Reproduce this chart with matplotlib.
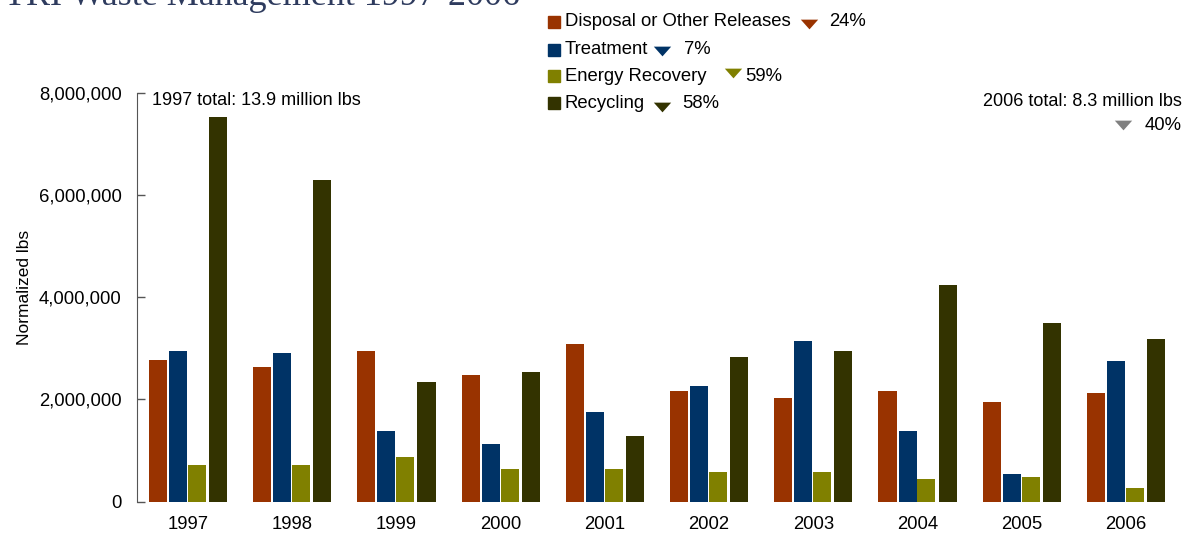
import numpy as np
import matplotlib
matplotlib.use("Agg")
import matplotlib.pyplot as plt
from matplotlib.ticker import FuncFormatter

plt.rcParams['font.family'] = ['Liberation Sans', 'DejaVu Sans']

years = ['1997', '1998', '1999', '2000', '2001', '2002', '2003', '2004', '2005', '2006']
disposal = [2770000, 2630000, 2950000, 2480000, 3090000, 2170000, 2030000, 2170000, 1940000, 2130000]
treatment = [2950000, 2910000, 1380000, 1130000, 1760000, 2270000, 3150000, 1390000, 550000, 2760000]
energy = [720000, 720000, 870000, 645000, 645000, 590000, 590000, 450000, 490000, 270000]
recycling = [7520000, 6290000, 2340000, 2540000, 1290000, 2820000, 2950000, 4240000, 3500000, 3190000]

series_names = ['Disposal or Other Releases', 'Treatment', 'Energy Recovery', 'Recycling']
series_colors = ['#993300', '#003366', '#808000', '#333300']
change_labels = ['24%', '7%', '59%', '58%']

W, H = 1185, 537
fig = plt.figure(figsize=(W / 100, H / 100), dpi=100)
ax = fig.add_axes([137 / W, 1 - 501.7 / H, (1177 - 137) / W, (501.7 - 92.5) / H])

x = np.arange(len(years))
offsets = [-0.288, -0.096, 0.086, 0.288]
bar_w = 0.173
for vals, off, col in zip([disposal, treatment, energy, recycling], offsets, series_colors):
    ax.bar(x + off, vals, width=bar_w, color=col, linewidth=0)

ax.set_xlim(-0.49, len(years) - 0.51)
ax.set_ylim(0, 8000000)
ax.set_yticks([0, 2000000, 4000000, 6000000, 8000000])
ax.yaxis.set_major_formatter(FuncFormatter(lambda v, p: f'{int(v):,}'))
ax.set_xticks(x)
ax.set_xticklabels(years)
ax.tick_params(axis='x', length=0, pad=10, labelsize=13.3)
ax.tick_params(axis='y', direction='in', length=6, width=1, color='#555555', pad=11, labelsize=13.3)
for s in ['top', 'right', 'bottom']:
    ax.spines[s].set_visible(False)
ax.spines['left'].set_color('#555555')
ax.set_ylabel('Normalized lbs', fontsize=12.5)
ax.yaxis.set_label_coords(-0.101, 0.523)


def fx(px):
    return px / W


def fy(py):
    return 1 - py / H


# flat down-pointing triangle used for the change markers
down_tri = [(-1, 0.56), (1, 0.56), (0, -0.56), (-1, 0.56)]

# title, partly above the top edge
fig.text(fx(4), fy(5), 'TRI Waste Management 1997-2006', family='Liberation Serif',
         fontsize=26, color='#2E3B5E', va='baseline', ha='left')

# legend with change markers
row_y = [22, 49.5, 76.5, 103]
tri_pos = [(809, 24), (662, 51), (733, 73), (662, 107)]
pct_x = [829, 684, 745, 682]
for name, col, ry, (tx, ty), px, pct in zip(series_names, series_colors, row_y, tri_pos, pct_x, change_labels):
    ax.plot([fx(553.5)], [fy(ry)], marker='s', markersize=9.2, color=col, linestyle='none',
            transform=fig.transFigure, clip_on=False)
    fig.text(fx(565), fy(ry), name, fontsize=13.3, va='center', ha='left')
    ax.plot([fx(tx)], [fy(ty)], marker=down_tri, markersize=12.5, color=col, linestyle='none',
            markeredgewidth=0, transform=fig.transFigure, clip_on=False)
    fig.text(fx(px), fy(ry), pct, fontsize=13.3, va='center', ha='left')

fig.text(fx(152), fy(100.7), '1997 total: 13.9 million lbs', fontsize=13, va='center', ha='left')
fig.text(fx(1182), fy(101.7), '2006 total: 8.3 million lbs', fontsize=13, va='center', ha='right')
ax.plot([fx(1123)], [fy(125)], marker=down_tri, markersize=12.5, color='#808080', linestyle='none',
        markeredgewidth=0, transform=fig.transFigure, clip_on=False)
fig.text(fx(1182), fy(126), '40%', fontsize=13.3, va='center', ha='right')

fig.savefig('out.png', dpi=100)
